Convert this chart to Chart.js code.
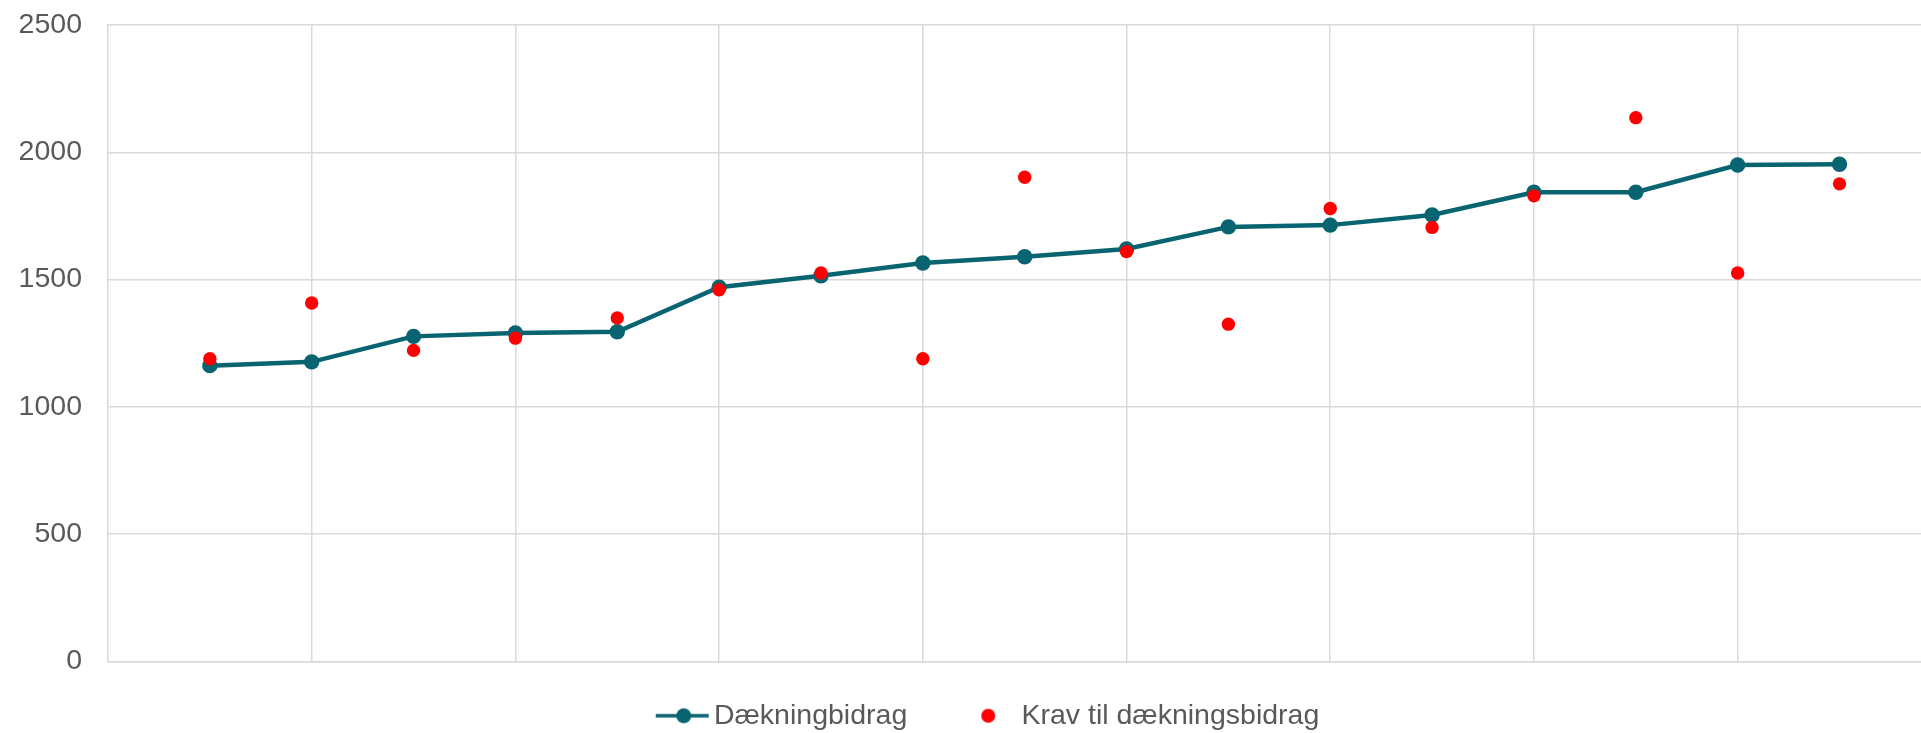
<!DOCTYPE html>
<html>
<head>
<meta charset="utf-8">
<title>Dækningbidrag</title>
<script src="https://cdn.jsdelivr.net/npm/chart.js@4"></script>
<style>
  html, body { margin: 0; padding: 0; background: #fff; overflow: hidden; }
  canvas { display: block; }
</style>
</head>
<body>
<canvas id="chart" width="1921" height="733"></canvas>
<script>
// Data
const xValues = [1, 2, 3, 4, 5, 6, 7, 8, 9, 10, 11, 12, 13, 14, 15, 16, 17];
const contribution = [1162, 1177, 1277, 1290, 1295, 1470, 1515, 1565, 1590, 1620, 1707, 1714, 1754, 1843, 1843, 1950, 1953];
const requirement = [1189, 1408, 1222, 1270, 1349, 1460, 1526, 1189, 1902, 1610, 1325, 1779, 1705, 1829, 2136, 1526, 1876];
const seriesNames = ['Dækningbidrag', 'Krav til dækningsbidrag'];

const TEAL = '#086470';
const RED = '#FF0000';
const GRID = '#D9D9D9';
const TEXT = '#595959';
const FONT = "'Liberation Sans', Arial, sans-serif";

// Legend markers drawn on small canvases
function makeMarker(withLine, dotX, color, r) {
  const c = document.createElement('canvas');
  c.width = 80;
  c.height = 20;
  const ctx = c.getContext('2d');
  if (withLine) {
    ctx.strokeStyle = color;
    ctx.lineWidth = 3.5;
    ctx.beginPath();
    ctx.moveTo(26, 10);
    ctx.lineTo(79, 10);
    ctx.stroke();
  }
  ctx.fillStyle = color;
  ctx.beginPath();
  ctx.arc(dotX, 10, r, 0, Math.PI * 2);
  ctx.fill();
  return c;
}
const legendMarkers = [makeMarker(true, 54, TEAL, 7.5), makeMarker(false, 51, RED, 7)];

// nudge the legend a bit to the right, like the original
const legendShift = {
  id: 'legendShift',
  afterLayout(chart) {
    chart.legend.left += 19;
    chart.legend.right += 19;
  }
};

const toPoints = ys => ys.map((y, i) => ({ x: xValues[i], y: y }));

new Chart(document.getElementById('chart'), {
  type: 'scatter',
  data: {
    datasets: [{
      label: seriesNames[0],
      data: toPoints(contribution),
      showLine: true,
      borderColor: TEAL,
      backgroundColor: TEAL,
      borderWidth: 4.5,
      pointRadius: 7.7,
      pointBorderWidth: 0,
      order: 1
    }, {
      label: seriesNames[1],
      data: toPoints(requirement),
      showLine: false,
      borderColor: RED,
      backgroundColor: RED,
      pointRadius: 6.7,
      pointBorderWidth: 0,
      order: 0
    }]
  },
  plugins: [legendShift],
  options: {
    responsive: false,
    animation: false,
    devicePixelRatio: 1,
    layout: { autoPadding: false, padding: { left: 0, top: 25, right: 0, bottom: -7 } },
    plugins: {
      tooltip: { enabled: false },
      legend: {
        position: 'bottom',
        labels: {
          usePointStyle: true,
          pointStyleWidth: 60,
          padding: 40,
          color: TEXT,
          font: { family: FONT, size: 28.5 },
          sort: (a, b) => a.datasetIndex - b.datasetIndex,
          generateLabels: function(chart) {
            const items = Chart.defaults.plugins.legend.labels.generateLabels(chart);
            items.forEach(item => { item.pointStyle = legendMarkers[item.datasetIndex]; });
            return items;
          }
        }
      }
    },
    scales: {
      x: {
        type: 'linear',
        min: 0,
        max: 17.8,
        ticks: { display: false, stepSize: 2 },
        afterBuildTicks: scale => {
          scale.ticks = scale.ticks.filter(t => t.value > 0 && t.value < 17);
        },
        grid: { color: GRID, lineWidth: 1.5, drawTicks: false },
        border: { color: GRID, width: 1.5 }
      },
      y: {
        min: 0,
        max: 2500,
        ticks: {
          stepSize: 500,
          padding: 0,
          color: TEXT,
          font: { family: FONT, size: 28.5 },
          callback: value => String(value)
        },
        afterFit: scale => { scale.width = 108; },
        // invisible tick marks keep the labels 26px from the axis
        grid: { color: GRID, lineWidth: 1.5, drawTicks: true, tickLength: 26, tickColor: 'rgba(0,0,0,0)' },
        border: { color: GRID, width: 1.5 }
      }
    }
  }
});
</script>
</body>
</html>
